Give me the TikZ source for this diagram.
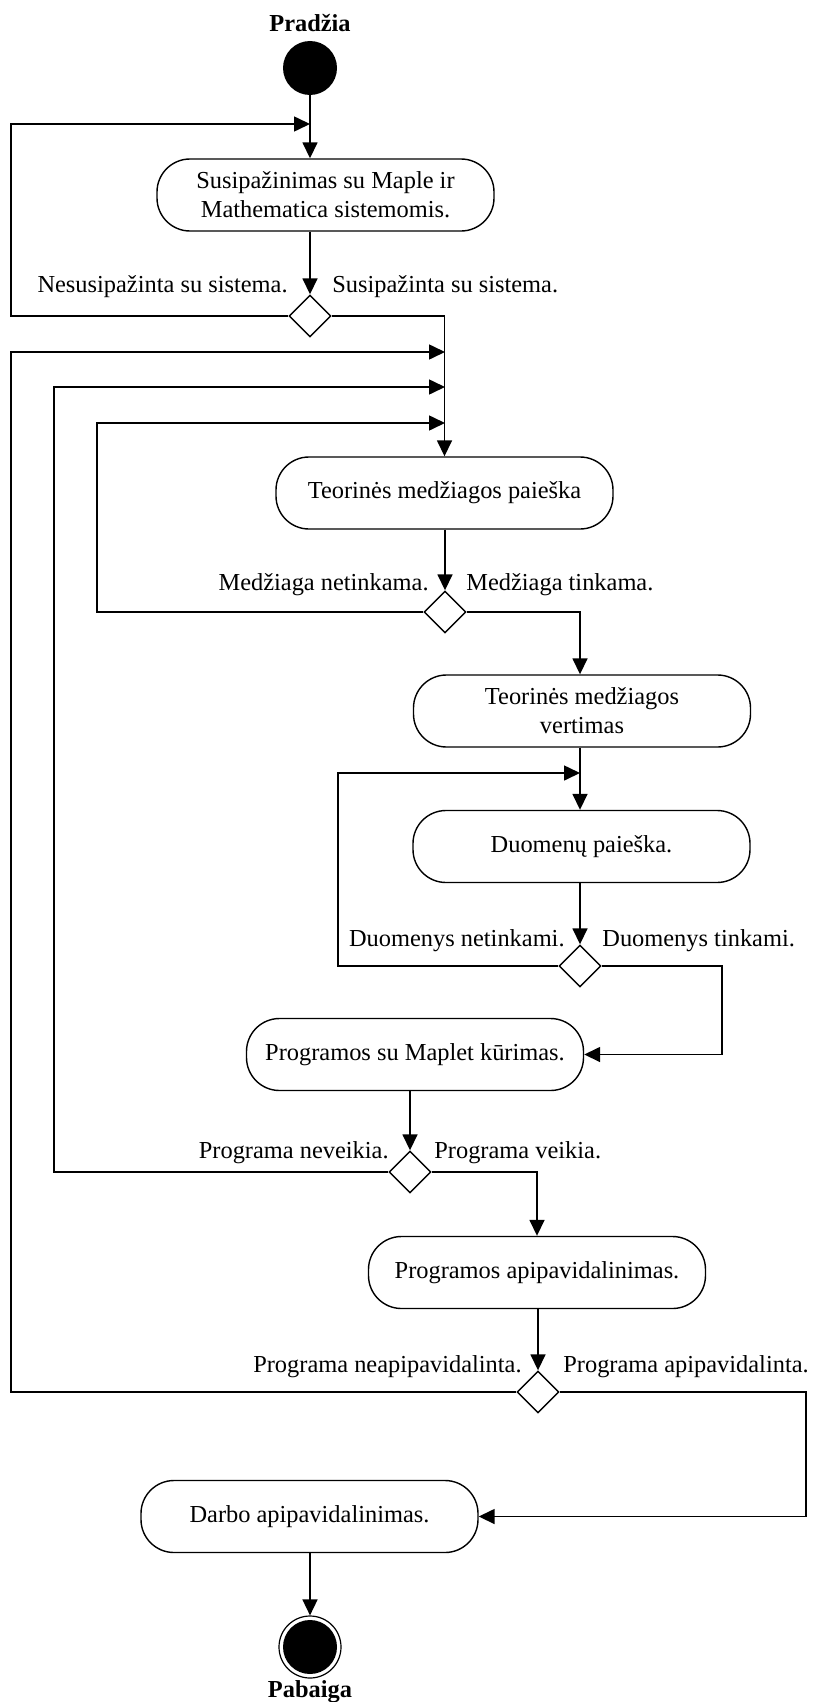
\documentclass[tikz,border=0pt]{standalone}
\usepackage{fontspec}
\setmainfont{Liberation Serif}
\usetikzlibrary{shapes.geometric,arrows.meta}

\begin{document}
\begin{tikzpicture}[x=0.5pt,y=-0.5pt]
  \tikzstyle{every node}+=[font=\fontsize{12.2pt}{14.5pt}\selectfont]
  \tikzstyle{act}=[draw, line width=0.7pt, rounded corners=16.5pt, minimum width=168.5pt, minimum height=36pt, align=center, inner sep=2pt]
  \tikzstyle{dec}=[draw, line width=0.7pt, diamond, minimum size=21pt, inner sep=0pt]
  \tikzstyle{lbl}=[inner sep=0pt]
  \tikzstyle{bold}=[font=\fontsize{12.2pt}{14.5pt}\selectfont\bfseries]
  \tikzstyle{flow}=[line width=0.8pt, -{Triangle[length=8pt,width=7.5pt]}]
  \useasboundingbox (0,0) rectangle (814,1702);
  \node[fill=black, circle, minimum size=27pt, inner sep=0pt] (start) at (310,68) {};
  \node[lbl, bold] (startlbl) at (310,23) {Pradžia};
  \node[act] (n1) at (325.5,195) {Susipažinimas su Maple ir\\Mathematica sistemomis.};
  \node[dec] (d1) at (310,316) {};
  \node[act] (n2) at (444.5,493) {Teorinės medžiagos paieška};
  \node[dec] (d2) at (445,612) {};
  \node[act] (n3) at (582,711) {Teorinės medžiagos\\vertimas};
  \node[act] (n4) at (581.5,846.5) {Duomenų paieška.};
  \node[dec] (d3) at (580,966) {};
  \node[act] (n5) at (415,1054.5) {Programos su Maplet kūrimas.};
  \node[dec] (d4) at (410,1172) {};
  \node[act] (n6) at (537,1272.5) {Programos apipavidalinimas.};
  \node[dec] (d5) at (538,1392) {};
  \node[act] (n7) at (309.5,1516.5) {Darbo apipavidalinimas.};
  \node[draw, circle, line width=0.6pt, minimum size=31pt, inner sep=0pt] (end) at (310,1647) {};
  \node[fill=black, circle, minimum size=27pt, inner sep=0pt] (endfill) at (end) {};
  \node[lbl, bold] (endlbl) at (310,1692) {Pabaiga};
  \coordinate (j1) at (310,124);
  \coordinate (j2) at (445,352);
  \coordinate (j3) at (445,387);
  \coordinate (j4) at (445,423);
  \coordinate (j5) at (580,773);
  \node[lbl, anchor=east] (l1a) at (288,287) {Nesusipažinta su sistema.};
  \node[lbl, anchor=west] (l1b) at (332,287) {Susipažinta su sistema.};
  \node[lbl, anchor=east] (l2a) at (429,585) {Medžiaga netinkama.};
  \node[lbl, anchor=west] (l2b) at (466,585) {Medžiaga tinkama.};
  \node[lbl, anchor=east] (l3a) at (565,941) {Duomenys netinkami.};
  \node[lbl, anchor=west] (l3b) at (602,941) {Duomenys tinkami.};
  \node[lbl, anchor=east] (l4a) at (389,1153) {Programa neveikia.};
  \node[lbl, anchor=west] (l4b) at (434,1153) {Programa veikia.};
  \node[lbl, anchor=east] (l5a) at (522,1367) {Programa neapipavidalinta.};
  \node[lbl, anchor=west] (l5b) at (563,1367) {Programa apipavidalinta.};
  \draw[flow] (start) -- (start |- n1.north);
  \draw[flow] (d1.west) -- (11,316) |- (j1);
  \draw[flow] (n1.south -| d1) -- (d1.north);
  \draw[flow] (d1.east) -| (n2.north);
  \draw[flow] (d5.west) -- (11,1392) |- (j2);
  \draw[flow] (d4.west) -- (54,1172) |- (j3);
  \draw[flow] (d2.west) -- (97,612) |- (j4);
  \draw[flow] (n2.south -| d2) -- (d2.north);
  \draw[flow] (d2.east) -| (n3.north -| j5);
  \draw[flow] (n3.south -| j5) -- (n4.north -| j5);
  \draw[flow] (d3.west) -- (338,966) |- (j5);
  \draw[flow] (n4.south -| d3) -- (d3.north);
  \draw[flow] (d3.east) -- (722,966) |- (n5.east);
  \draw[flow] (n5.south -| d4) -- (d4.north);
  \draw[flow] (d4.east) -| (n6.north);
  \draw[flow] (n6.south -| d5) -- (d5.north);
  \draw[flow] (d5.east) -- (806,1392) |- (n7.east);
  \draw[flow] (n7.south -| end) -- (end.north);
\end{tikzpicture}
\end{document}
